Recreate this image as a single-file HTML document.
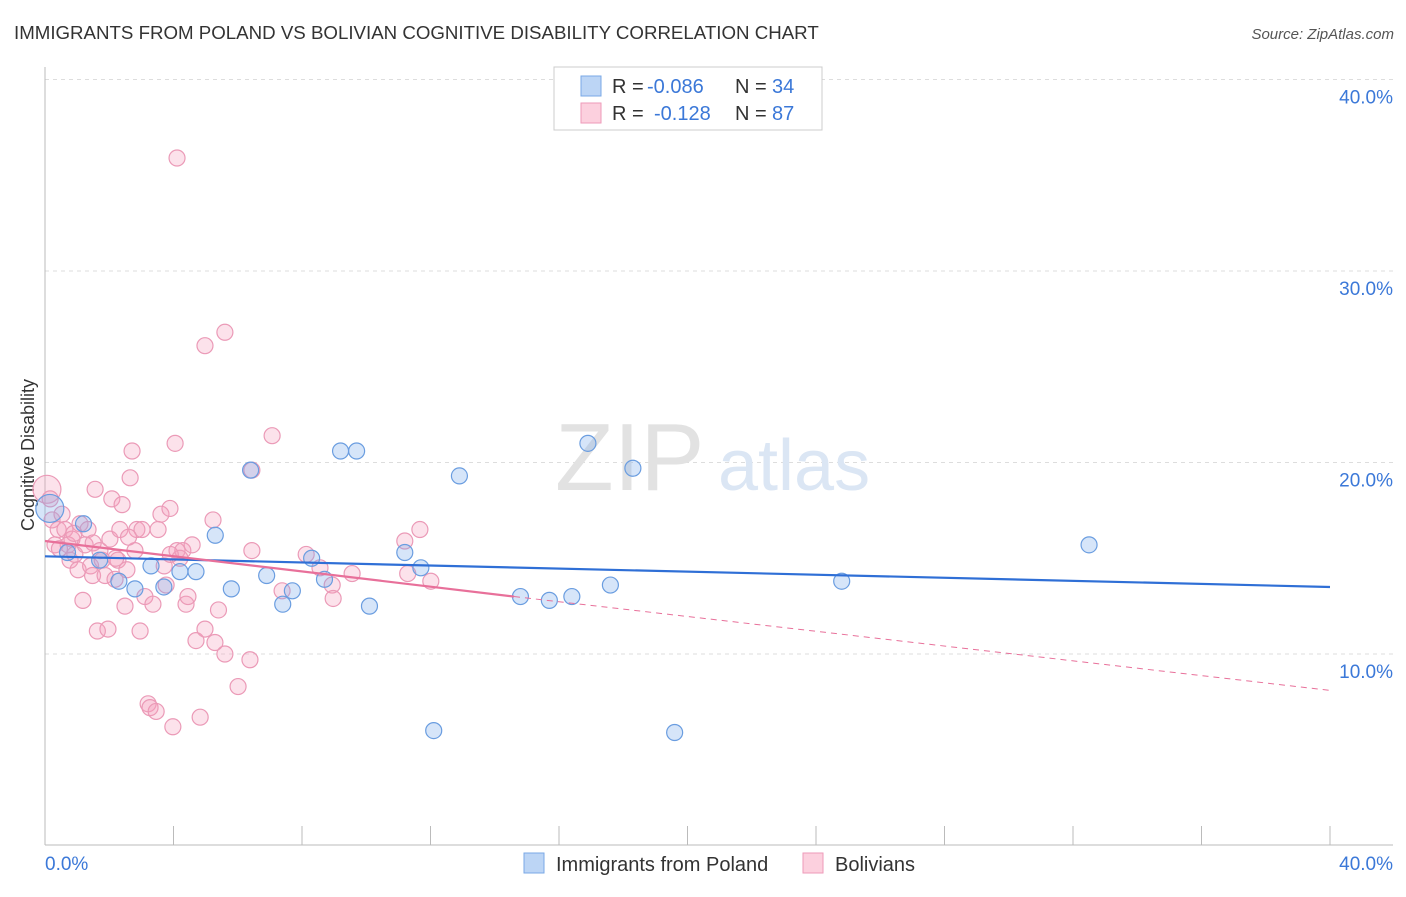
<!DOCTYPE html>
<html><head><meta charset="utf-8"><style>
body{margin:0;background:#fff;font-family:"Liberation Sans",sans-serif}
svg text{font-family:"Liberation Sans",sans-serif}
</style></head><body>
<svg id="chart" width="1406" height="892">
<text x="14" y="39" font-size="18.7" fill="#333">IMMIGRANTS FROM POLAND VS BOLIVIAN COGNITIVE DISABILITY CORRELATION CHART</text>
<text x="1394" y="39" font-size="15" fill="#555" font-style="italic" text-anchor="end">Source: ZipAtlas.com</text>
<g id="grid"></g>
<g><text x="555" y="490" font-size="96" fill="#e2e2e2" font-family="Liberation Serif">ZIP</text><text x="718" y="490" font-size="72" fill="#dbe6f4">atlas</text></g>
<text transform="translate(34,455) rotate(-90)" font-size="18" fill="#333" text-anchor="middle">Cognitive Disability</text>
<g id="pts"></g>
<g>
<rect x="554" y="67" width="268" height="63" fill="#fff" stroke="#ccc"/>
<rect x="581" y="76" width="20" height="20" fill="#bcd5f5" stroke="#7aa8e6"/>
<text x="612" y="93" font-size="20" fill="#333">R =</text>
<text x="647" y="93" font-size="20" fill="#3b78d8">-0.086</text>
<text x="735" y="93" font-size="20" fill="#333">N =</text>
<text x="772" y="93" font-size="20" fill="#3b78d8">34</text>
<rect x="581" y="103" width="20" height="20" fill="#fcd0de" stroke="#ee9ab8"/>
<text x="612" y="120" font-size="20" fill="#333">R =</text>
<text x="654" y="120" font-size="20" fill="#3b78d8">-0.128</text>
<text x="735" y="120" font-size="20" fill="#333">N =</text>
<text x="772" y="120" font-size="20" fill="#3b78d8">87</text>
</g>
<g>
<rect x="524" y="853" width="20" height="20" fill="#bcd5f5" stroke="#7aa8e6"/>
<text x="556" y="871" font-size="20" fill="#333">Immigrants from Poland</text>
<rect x="803" y="853" width="20" height="20" fill="#fcd0de" stroke="#ee9ab8"/>
<text x="835" y="871" font-size="20" fill="#333">Bolivians</text>
</g>
</svg>
<script>
const yTicks=[10,20,30,40];
const blueX=[0.15,1.2,0.7,1.7,2.3,2.8,3.3,3.7,4.2,4.7,5.3,5.8,6.4,6.9,7.4,7.7,8.3,8.7,9.2,9.7,10.1,11.2,11.7,12.1,12.9,14.8,15.7,16.4,16.9,17.6,18.3,19.6,24.8,32.5];
const blueY=[17.6,16.8,15.3,14.9,13.8,13.4,14.6,13.5,14.3,14.3,16.2,13.4,19.6,14.1,12.6,13.3,15.0,13.9,20.6,20.6,12.5,15.3,14.5,6.0,19.3,13.0,12.8,13.0,21.0,13.6,19.7,5.9,13.8,15.7];
const pinkX=[0.06,0.16,0.22,0.31,0.41,0.53,0.62,0.72,0.78,0.84,0.93,1.03,1.09,1.18,1.25,1.34,1.42,1.48,1.56,1.63,1.71,1.78,1.87,1.96,2.02,2.08,2.18,2.27,2.33,2.40,2.49,2.55,2.65,2.71,2.80,2.86,2.96,3.02,3.11,3.21,3.27,3.36,3.46,3.52,3.61,3.71,3.77,3.89,3.98,4.05,4.11,4.20,4.29,4.39,4.45,4.98,4.58,4.70,4.83,4.98,5.60,5.23,5.29,6.44,5.60,6.01,6.38,6.44,7.07,7.38,8.13,8.56,8.94,8.97,9.56,11.20,11.67,12.01,11.29,0.9,1.5,2.6,3.9,5.4,0.45,2.2,4.11];
const pinkY=[18.6,18.1,17.0,15.7,16.5,17.3,16.5,15.7,14.9,16.0,15.2,14.4,16.8,12.8,15.7,16.5,14.6,14.1,18.6,11.2,15.4,14.9,14.1,11.3,16.0,18.1,13.9,14.9,16.5,17.8,12.5,14.4,19.2,20.6,15.4,16.5,11.2,16.5,13.0,7.4,7.2,12.6,7.0,16.5,17.3,14.6,13.6,17.6,6.2,21.0,15.4,15.0,15.4,12.6,13.0,26.1,15.7,10.7,6.7,11.3,26.8,17.0,10.6,19.6,10.0,8.3,9.7,15.4,21.4,13.3,15.2,14.5,13.6,12.9,14.2,15.9,16.5,13.8,14.2,16.3,15.8,16.1,15.2,12.3,15.5,15.0,35.9];
const X=v=>45+v/40*1285, Y=v=>845.5-v*19.15;
const NS='http://www.w3.org/2000/svg';
const grid=document.getElementById('grid');
function mk(t,a,p){const e=document.createElementNS(NS,t);for(const k in a)e.setAttribute(k,a[k]);p.appendChild(e);return e;}
yTicks.forEach(t=>{
 const l=mk('line',{x1:45,x2:1393,y1:Y(t),y2:Y(t),stroke:'#ddd','stroke-dasharray':'4,4'},grid);
 
 
 const tx=mk('text',{x:1393,y:Y(t)+24,'font-size':19,fill:'#3b78d8','text-anchor':'end'},grid);tx.textContent=t.toFixed(1)+'%';
 
 
});
const ax=mk('line',{x1:45,x2:1393,y1:845,y2:845,stroke:'#bbb'},grid);


const ay=mk('line',{x1:45,x2:45,y1:67,y2:845,stroke:'#bbb'},grid);


for(let i=0;i<=10;i++){const t=mk('line',{x1:X(i*4),x2:X(i*4),y1:826,y2:845,stroke:'#bbb'},grid);
 
 }
[['0.0%',45,'start'],['40.0%',1393,'end']].forEach(([s,x,a])=>{const t=mk('text',{x:x,y:870,'font-size':19,fill:'#3b78d8','text-anchor':a},grid);t.textContent=s;
 
 });
const pts=document.getElementById('pts');
pinkX.forEach((v,i)=>{const c=mk('circle',{cx:X(v),cy:Y(pinkY[i]),r:i==0?14:8,fill:'rgba(244,160,190,0.3)',stroke:'#eb9ab7','stroke-width':1.2},pts);
 
 });
blueX.forEach((v,i)=>{const c=mk('circle',{cx:X(v),cy:Y(blueY[i]),r:i==0?14:8,fill:'rgba(120,170,235,0.3)',stroke:'#6a9de0','stroke-width':1.2},pts);
 
 });
const l1=mk('line',{x1:X(0),y1:Y(15.1),x2:X(40),y2:Y(13.5),stroke:'#2f6fd6','stroke-width':2.2},pts);


const l2=mk('line',{x1:X(0),y1:Y(15.9),x2:X(14.6),y2:Y(13.0),stroke:'#e8709a','stroke-width':2.2},pts);


const l3=mk('line',{x1:X(14.6),y1:Y(13.0),x2:X(40),y2:Y(8.1),stroke:'#e8709a','stroke-width':1,'stroke-dasharray':'6,5'},pts);


</script>
</body></html>
